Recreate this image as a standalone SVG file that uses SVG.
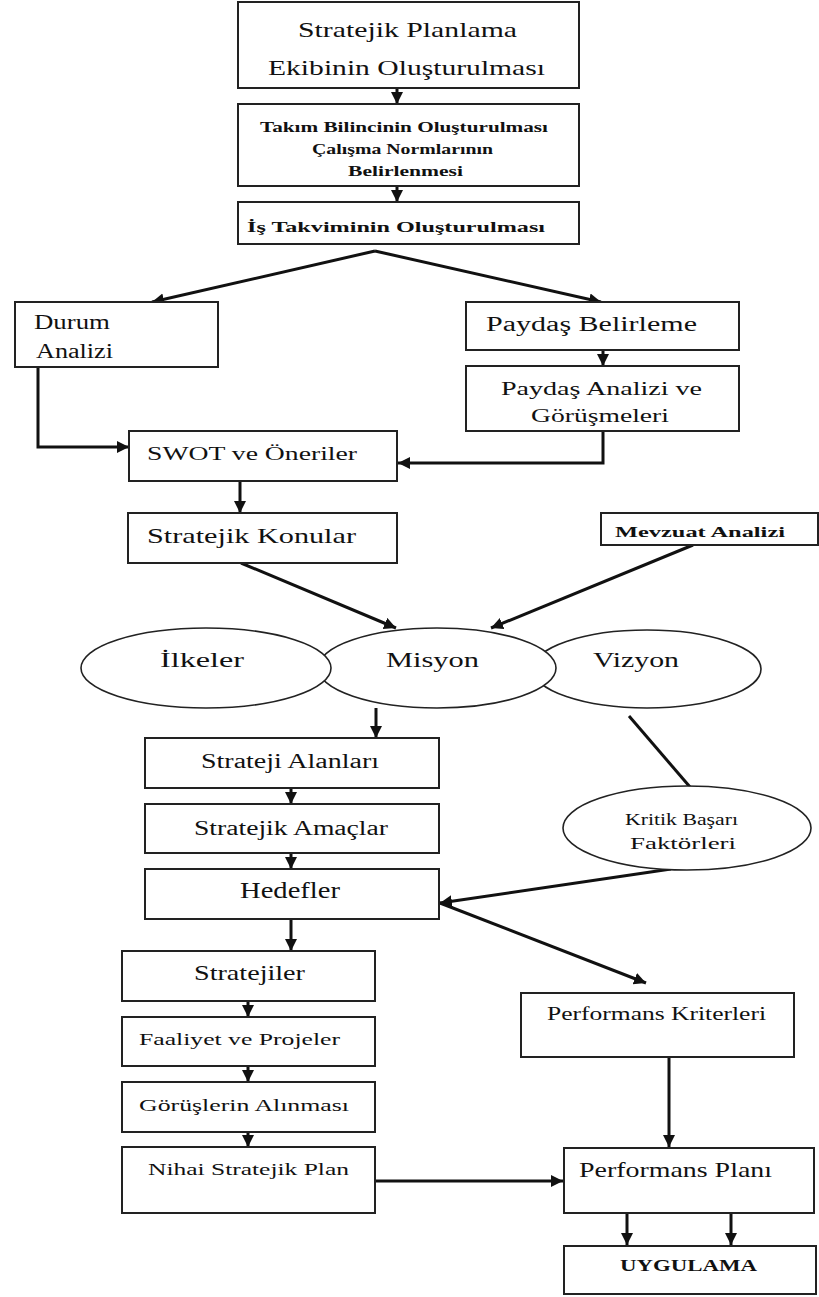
<svg xmlns="http://www.w3.org/2000/svg" width="819" height="1297" viewBox="0 0 819 1297">
  <defs>
    <marker id="head" markerUnits="userSpaceOnUse" markerWidth="14" markerHeight="14" refX="12" refY="6" orient="auto">
      <path d="M0,0 L12,6 L0,12 z" fill="#111"/>
    </marker>
    <style>
      .box { fill: #fff; stroke: #222; stroke-width: 2; }
      .oval { fill: #fff; stroke: #222; stroke-width: 1.6; }
      .t { font-family: "Liberation Serif", "Times New Roman", serif; fill: #111; }
      .b { font-weight: bold; }
      .link { stroke: #111; stroke-width: 3; fill: none; marker-end: url(#head); }
      .plain { stroke: #111; stroke-width: 3; fill: none; }
    </style>
  </defs>
  <rect width="819" height="1297" fill="#fff"/>

  <!-- connectors -->
  <g id="connectors">
    <line class="link" x1="397" y1="88" x2="397" y2="104"/>
    <line class="link" x1="397" y1="186" x2="397" y2="202"/>
    <line class="link" x1="375" y1="251" x2="152" y2="302"/>
    <line class="link" x1="375" y1="251" x2="601" y2="302"/>
    <line class="link" x1="603" y1="350" x2="603" y2="366"/>
    <polyline class="link" points="38,367 38,447 129,447"/>
    <polyline class="link" points="603,431 603,463 398,463"/>
    <line class="link" x1="240" y1="481" x2="240" y2="513"/>
    <line class="link" x1="241" y1="563" x2="396" y2="628"/>
    <line class="link" x1="693" y1="545" x2="491" y2="628"/>
    <line class="link" x1="376" y1="708" x2="376" y2="738"/>
    <line class="link" x1="291" y1="788" x2="291" y2="804"/>
    <line class="link" x1="291" y1="853" x2="291" y2="869"/>
    <line class="plain" x1="629" y1="716" x2="690" y2="787"/>
    <line class="link" x1="671" y1="869" x2="440" y2="903"/>
    <line class="link" x1="440" y1="903" x2="646" y2="983"/>
    <line class="link" x1="291" y1="919" x2="291" y2="951"/>
    <line class="link" x1="248" y1="1001" x2="248" y2="1017"/>
    <line class="link" x1="248" y1="1066" x2="248" y2="1082"/>
    <line class="link" x1="248" y1="1132" x2="248" y2="1147"/>
    <line class="link" x1="375" y1="1181" x2="563" y2="1181"/>
    <line class="link" x1="669" y1="1057" x2="669" y2="1147"/>
    <line class="link" x1="627" y1="1213" x2="627" y2="1245"/>
    <line class="link" x1="731" y1="1213" x2="731" y2="1245"/>
  </g>

  <g id="ekip">
    <rect class="box" x="238" y="2" width="341" height="86"/>
    <text class="t" x="298" y="37" font-size="22" textLength="219" lengthAdjust="spacingAndGlyphs">Stratejik Planlama</text>
    <text class="t" x="268" y="75" font-size="22" textLength="277" lengthAdjust="spacingAndGlyphs">Ekibinin Oluşturulması</text>
  </g>

  <g id="takim">
    <rect class="box" x="238" y="104" width="341" height="82"/>
    <text class="t b" x="260" y="132" font-size="15" textLength="288" lengthAdjust="spacingAndGlyphs">Takım Bilincinin Oluşturulması</text>
    <text class="t b" x="312" y="154" font-size="15" textLength="181" lengthAdjust="spacingAndGlyphs">Çalışma Normlarının</text>
    <text class="t b" x="348" y="176" font-size="15" textLength="115" lengthAdjust="spacingAndGlyphs">Belirlenmesi</text>
  </g>

  <g id="takvim">
    <rect class="box" x="238" y="202" width="341" height="42"/>
    <text class="t b" x="247" y="232" font-size="15" textLength="298" lengthAdjust="spacingAndGlyphs">İş Takviminin Oluşturulması</text>
  </g>

  <g id="durum">
    <rect class="box" x="15" y="302" width="203" height="65"/>
    <text class="t" x="34" y="329" font-size="20" textLength="76" lengthAdjust="spacingAndGlyphs">Durum</text>
    <text class="t" x="36" y="358" font-size="20" textLength="77" lengthAdjust="spacingAndGlyphs">Analizi</text>
  </g>

  <g id="paydas-belirleme">
    <rect class="box" x="466" y="302" width="273" height="48"/>
    <text class="t" x="486" y="331" font-size="20" textLength="211" lengthAdjust="spacingAndGlyphs">Paydaş Belirleme</text>
  </g>

  <g id="paydas-analizi">
    <rect class="box" x="466" y="366" width="273" height="65"/>
    <text class="t" x="501" y="395" font-size="18" textLength="201" lengthAdjust="spacingAndGlyphs">Paydaş Analizi ve</text>
    <text class="t" x="531" y="422" font-size="18" textLength="138" lengthAdjust="spacingAndGlyphs">Görüşmeleri</text>
  </g>

  <g id="swot">
    <rect class="box" x="129" y="431" width="268" height="50"/>
    <text class="t" x="147" y="460" font-size="19" textLength="210" lengthAdjust="spacingAndGlyphs">SWOT ve Öneriler</text>
  </g>

  <g id="konular">
    <rect class="box" x="128" y="513" width="269" height="50"/>
    <text class="t" x="147" y="543" font-size="22" textLength="209" lengthAdjust="spacingAndGlyphs">Stratejik Konular</text>
  </g>

  <g id="mevzuat">
    <rect class="box" x="601" y="513" width="217" height="32"/>
    <text class="t b" x="615" y="537" font-size="14" textLength="170" lengthAdjust="spacingAndGlyphs">Mevzuat Analizi</text>
  </g>

  <g id="vizyon">
    <ellipse class="oval" cx="647" cy="669" rx="114" ry="39"/>
    <text class="t" x="593" y="667" font-size="22" textLength="86" lengthAdjust="spacingAndGlyphs">Vizyon</text>
  </g>

  <g id="misyon">
    <ellipse class="oval" cx="437" cy="668" rx="119" ry="40"/>
    <text class="t" x="386" y="667" font-size="22" textLength="93" lengthAdjust="spacingAndGlyphs">Misyon</text>
  </g>

  <g id="ilkeler">
    <ellipse class="oval" cx="206" cy="668" rx="125" ry="40"/>
    <text class="t" x="160" y="667" font-size="22" textLength="84" lengthAdjust="spacingAndGlyphs">İlkeler</text>
  </g>

  <g id="strateji-alanlari">
    <rect class="box" x="145" y="738" width="294" height="50"/>
    <text class="t" x="201" y="768" font-size="20" textLength="178" lengthAdjust="spacingAndGlyphs">Strateji Alanları</text>
  </g>

  <g id="amaclar">
    <rect class="box" x="145" y="804" width="294" height="49"/>
    <text class="t" x="194" y="835" font-size="20" textLength="194" lengthAdjust="spacingAndGlyphs">Stratejik Amaçlar</text>
  </g>

  <g id="hedefler">
    <rect class="box" x="145" y="869" width="294" height="50"/>
    <text class="t" x="240" y="898" font-size="23" textLength="100" lengthAdjust="spacingAndGlyphs">Hedefler</text>
  </g>

  <g id="kritik">
    <ellipse class="oval" cx="687" cy="828" rx="124" ry="42"/>
    <text class="t" x="625" y="825" font-size="16" textLength="113" lengthAdjust="spacingAndGlyphs">Kritik Başarı</text>
    <text class="t" x="630" y="849" font-size="16" textLength="106" lengthAdjust="spacingAndGlyphs">Faktörleri</text>
  </g>

  <g id="stratejiler">
    <rect class="box" x="122" y="951" width="253" height="50"/>
    <text class="t" x="194" y="980" font-size="21" textLength="111" lengthAdjust="spacingAndGlyphs">Stratejiler</text>
  </g>

  <g id="faaliyet">
    <rect class="box" x="122" y="1017" width="253" height="49"/>
    <text class="t" x="139" y="1045" font-size="17" textLength="201" lengthAdjust="spacingAndGlyphs">Faaliyet ve Projeler</text>
  </g>

  <g id="gorusler">
    <rect class="box" x="122" y="1082" width="253" height="50"/>
    <text class="t" x="139" y="1111" font-size="17" textLength="210" lengthAdjust="spacingAndGlyphs">Görüşlerin Alınması</text>
  </g>

  <g id="nihai">
    <rect class="box" x="122" y="1147" width="253" height="66"/>
    <text class="t" x="148" y="1175" font-size="17" textLength="201" lengthAdjust="spacingAndGlyphs">Nihai Stratejik Plan</text>
  </g>

  <g id="kriterler">
    <rect class="box" x="521" y="993" width="273" height="64"/>
    <text class="t" x="547" y="1020" font-size="18" textLength="219" lengthAdjust="spacingAndGlyphs">Performans Kriterleri</text>
  </g>

  <g id="plan">
    <rect class="box" x="564" y="1148" width="250" height="65"/>
    <text class="t" x="579" y="1177" font-size="21" textLength="193" lengthAdjust="spacingAndGlyphs">Performans Planı</text>
  </g>

  <g id="uygulama">
    <rect class="box" x="564" y="1246" width="252" height="48"/>
    <text class="t b" x="620" y="1271" font-size="17" textLength="137" lengthAdjust="spacingAndGlyphs">UYGULAMA</text>
  </g>
</svg>
